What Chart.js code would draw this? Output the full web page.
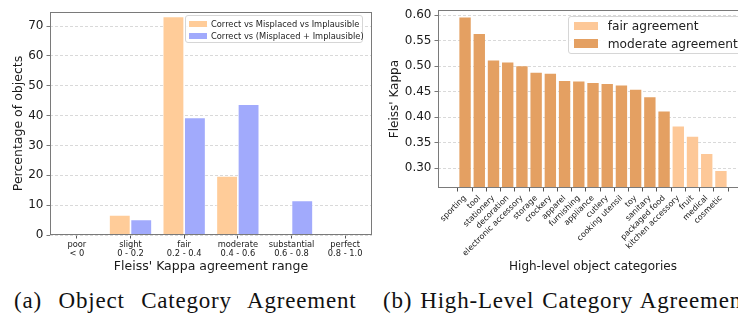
<!DOCTYPE html>
<html>
<head>
<meta charset="utf-8">
<script src="https://cdn.jsdelivr.net/npm/chart.js@4.4.0/dist/chart.umd.min.js"></script>
<style>
  html, body { margin: 0; padding: 0; background: #fff; }
  body { width: 738px; height: 320px; overflow: hidden; position: relative; font-family: "DejaVu Sans", sans-serif; }
  .panel { position: absolute; top: 0; height: 285px; }
  #leftPanel { left: 0; width: 380px; }
  #rightPanel { left: 380px; width: 378px; }
  .legend { position: absolute; background: rgba(255,255,255,0.85); border: 1px solid #d6d6d6; border-radius: 3px; box-sizing: border-box; color: #222; }
  .legend .row { display: flex; align-items: center; white-space: nowrap; }
  .legend .sw { display: inline-block; flex: none; }
  #leftLegend { left: 185px; top: 15px; width: 178px; height: 28px; padding: 2px 0 0 3px; font-size: 8.3px; }
  #leftLegend .row { height: 11.7px; }
  #leftLegend .sw { width: 17.5px; height: 6px; margin-right: 4.5px; }
  #rightLegend { left: 567.7px; top: 15.5px; width: 200px; height: 38.5px; padding: 0.5px 0 0 5px; font-size: 12.2px; }
  #rightLegend .row { height: 17.7px; }
  #rightLegend .sw { width: 24px; height: 8.5px; margin-right: 10px; }
  .caption { position: absolute; top: 288.7px; font-family: "Liberation Serif", serif; font-size: 23px; line-height: 1; letter-spacing: 0.8px; color: #111; white-space: nowrap; }
  #capA { left: 14px; word-spacing: 10px; }
  #capB { left: 383px; word-spacing: 1.5px; }
</style>
</head>
<body>
<div class="panel" id="leftPanel"><canvas id="agreementChart"></canvas></div>
<div class="panel" id="rightPanel"><canvas id="categoryChart"></canvas></div>
<div class="legend" id="leftLegend"></div>
<div class="legend" id="rightLegend"></div>
<div class="caption" id="capA">(a) Object Category Agreement</div>
<div class="caption" id="capB">(b) High-Level Category Agreement</div>
<script>
// (a) agreement range histogram
const rangeLabels = [
    ['poor', '< 0'],
    ['slight', '0 - 0.2'],
    ['fair', '0.2 - 0.4'],
    ['moderate', '0.4 - 0.6'],
    ['substantial', '0.6 - 0.8'],
    ['perfect', '0.8 - 1.0']
];
const threeWayPct = [0, 6.7, 73.2, 19.8, 0.3, 0];
const twoWayPct = [0, 5.2, 39.4, 43.8, 11.6, 0];
const pctTicks = [0, 10, 20, 30, 40, 50, 60, 70];

// (b) kappa per high-level category
const categories = [
    'sporting', 'tool', 'stationery', 'decoration', 'electronic accessory',
    'storage', 'crockery', 'apparel', 'furnishing', 'appliance', 'cutlery',
    'cooking utensil', 'toy', 'sanitary', 'packaged food', 'kitchen accessory',
    'fruit', 'medical', 'cosmetic'
];
const kappaValues = [
    0.595, 0.563, 0.511, 0.507, 0.500, 0.487, 0.485, 0.471, 0.470, 0.467,
    0.465, 0.462, 0.454, 0.439, 0.411, 0.382, 0.362, 0.328, 0.295
];
const kappaTicks = [0.30, 0.35, 0.40, 0.45, 0.50, 0.55, 0.60];
const moderateFrom = 0.4; // kappa 0.2-0.4 is "fair", 0.4-0.6 "moderate"

const textColor = '#1a1a1a';
const gridColor = '#cfcfcf';
const spineColor = '#7a7a7a';

// draws the box round the plot area, like matplotlib spines
const framePlugin = {
    id: 'frame',
    afterDatasetsDraw(chart) {
        const a = chart.chartArea;
        const ctx = chart.ctx;
        ctx.save();
        ctx.strokeStyle = spineColor;
        ctx.lineWidth = 1;
        ctx.strokeRect(Math.round(a.left) + 0.5, Math.round(a.top) + 0.5,
            Math.round(a.right - a.left) - 1, Math.round(a.bottom - a.top) - 1);
        ctx.restore();
    }
};

function buildLegend(chart, el) {
    el.innerHTML = '';
    chart.data.datasets.forEach(ds => {
        const row = document.createElement('div');
        row.className = 'row';
        const sw = document.createElement('span');
        sw.className = 'sw';
        sw.style.background = ds.backgroundColor;
        const txt = document.createElement('span');
        txt.textContent = ds.label;
        row.append(sw, txt);
        el.append(row);
    });
}

Chart.defaults.font.family = '"DejaVu Sans", sans-serif';
Chart.defaults.color = textColor;

// ---- left chart ----
const agreementChart = new Chart(document.getElementById('agreementChart'), {
    type: 'bar',
    data: {
        labels: rangeLabels,
        datasets: [{
            label: 'Correct vs Misplaced vs Implausible',
            data: threeWayPct,
            backgroundColor: '#ffcc99',
            borderColor: 'rgba(255,255,255,0.6)',
            borderWidth: 0.8
        }, {
            label: 'Correct vs (Misplaced + Implausible)',
            data: twoWayPct,
            backgroundColor: '#a1aafc',
            borderColor: 'rgba(255,255,255,0.6)',
            borderWidth: 0.8
        }]
    },
    options: {
        animation: false,
        responsive: true,
        maintainAspectRatio: false,
        devicePixelRatio: 1,
        layout: { padding: { top: 12, right: 8, left: 0, bottom: 0 } },
        datasets: { bar: { categoryPercentage: 0.8, barPercentage: 1.0 } },
        plugins: { legend: { display: false }, tooltip: { enabled: false } },
        scales: {
            x: {
                afterFit(scale) { scale.height = 50; },
                grid: { offset: false, drawOnChartArea: false, tickLength: 3.5, tickColor: '#555' },
                border: { display: false },
                ticks: { font: { size: 8.3, lineHeight: 1.1 }, padding: 2, maxRotation: 0 },
                title: { display: true, text: "Fleiss' Kappa agreement range", font: { size: 12.5 }, padding: { top: 0, bottom: 10.5 } }
            },
            y: {
                min: 0,
                max: 74.7,
                afterFit(scale) { scale.width = 50; },
                afterBuildTicks(scale) { scale.ticks = pctTicks.map(v => ({ value: v })); },
                grid: { color: gridColor, lineWidth: 0.8, tickLength: 3.5, tickColor: '#555' },
                border: { display: false, dash: [3, 2] },
                ticks: { font: { size: 12 }, padding: 3 },
                title: { display: true, text: 'Percentage of objects', font: { size: 12.5 }, padding: { top: 11, bottom: 0 } }
            }
        }
    },
    plugins: [framePlugin]
});
buildLegend(agreementChart, document.getElementById('leftLegend'));

// ---- right chart ----
const fairPoints = [];
const moderatePoints = [];
kappaValues.forEach((v, i) => {
    (v < moderateFrom ? fairPoints : moderatePoints).push({ x: i, y: v });
});

const categoryChart = new Chart(document.getElementById('categoryChart'), {
    type: 'bar',
    data: {
        datasets: [{
            label: 'fair agreement',
            data: fairPoints,
            backgroundColor: '#fdc898'
        }, {
            label: 'moderate agreement',
            data: moderatePoints,
            backgroundColor: '#e4a062'
        }]
    },
    options: {
        animation: false,
        responsive: true,
        maintainAspectRatio: false,
        devicePixelRatio: 1,
        layout: { padding: { top: 9.5, right: 10, left: 0, bottom: 0 } },
        datasets: { bar: { grouped: false, categoryPercentage: 1.0, barPercentage: 0.8 } },
        plugins: { legend: { display: false }, tooltip: { enabled: false } },
        scales: {
            x: {
                type: 'linear',
                min: -1.33,
                max: categories.length - 1 + 1.33,
                afterFit(scale) { scale.height = 97; },
                afterBuildTicks(scale) { scale.ticks = categories.map((c, i) => ({ value: i })); },
                grid: { drawOnChartArea: false, tickLength: 3.5, tickColor: '#555' },
                border: { display: false },
                ticks: {
                    autoSkip: false,
                    minRotation: 45,
                    maxRotation: 45,
                    padding: 2,
                    font: { size: 8 },
                    callback: v => categories[v]
                },
                title: { display: true, text: 'High-level object categories', font: { size: 12 }, padding: { top: 0, bottom: 11.4 } }
            },
            y: {
                min: 0.2616,
                max: 0.6094,
                afterFit(scale) { scale.width = 58; },
                afterBuildTicks(scale) { scale.ticks = kappaTicks.map(v => ({ value: v })); },
                grid: { color: gridColor, lineWidth: 0.8, tickLength: 3.5, tickColor: '#555' },
                border: { display: false, dash: [3, 2] },
                ticks: { font: { size: 12 }, padding: 3, callback: v => v.toFixed(2) },
                title: { display: true, text: "Fleiss' Kappa", font: { size: 12 }, padding: { top: 7.8, bottom: 0 } }
            }
        }
    },
    plugins: [framePlugin]
});
buildLegend(categoryChart, document.getElementById('rightLegend'));
</script>
</body>
</html>
